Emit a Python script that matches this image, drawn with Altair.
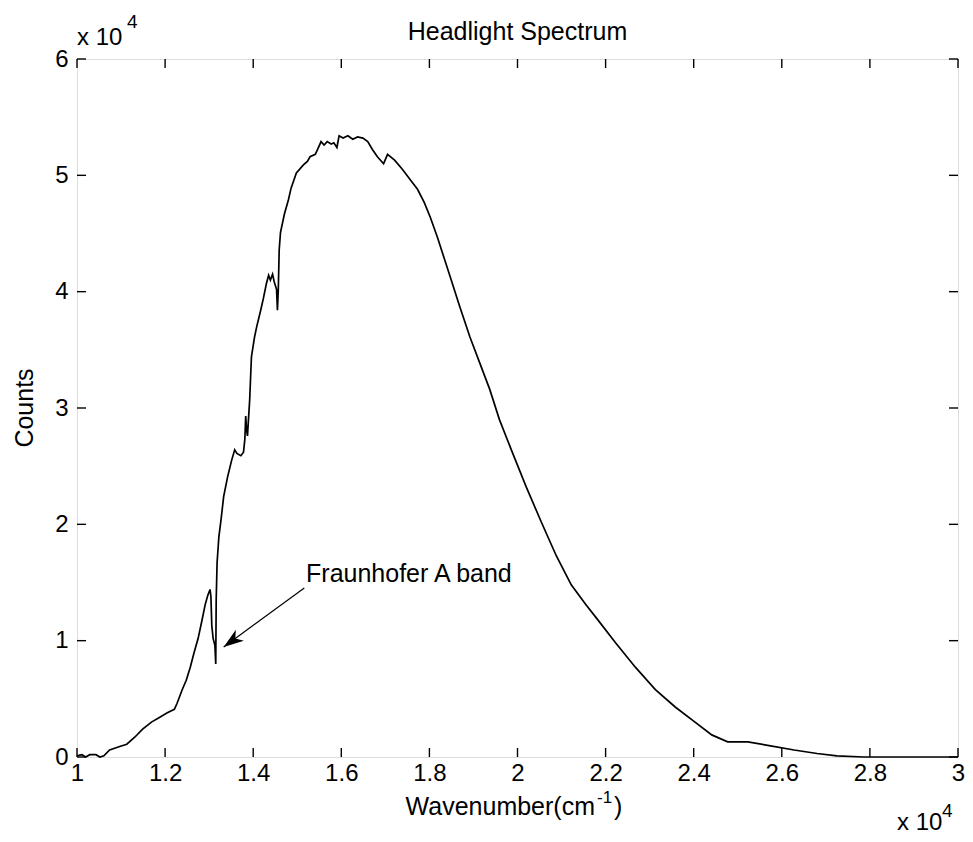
import altair as alt
import pandas as pd

# ---- data (wavenumber in 10^4 cm^-1, counts in 10^4) ----
wavenumber = [1.000, 1.011, 1.020, 1.029, 1.043, 1.052, 1.061, 1.074, 1.097, 1.113,
              1.131, 1.149, 1.169, 1.187, 1.205, 1.221, 1.227, 1.239, 1.248, 1.257,
              1.266, 1.275, 1.284, 1.291, 1.297, 1.302, 1.304, 1.306, 1.309, 1.313,
              1.315, 1.316, 1.318, 1.322, 1.327, 1.333, 1.342, 1.351, 1.358, 1.363,
              1.372, 1.378, 1.381, 1.383, 1.385, 1.387, 1.392, 1.396, 1.403, 1.408,
              1.417, 1.423, 1.430, 1.435, 1.439, 1.444, 1.448, 1.453, 1.455, 1.457,
              1.459, 1.462, 1.471, 1.480, 1.486, 1.498, 1.514, 1.523, 1.529, 1.541,
              1.547, 1.554, 1.561, 1.568, 1.577, 1.583, 1.590, 1.595, 1.604, 1.615,
              1.626, 1.637, 1.649, 1.660, 1.671, 1.682, 1.696, 1.705, 1.721, 1.739,
              1.757, 1.773, 1.788, 1.802, 1.818, 1.847, 1.869, 1.892, 1.914, 1.937,
              1.959, 1.986, 2.020, 2.054, 2.088, 2.122, 2.155, 2.178, 2.223, 2.268,
              2.313, 2.358, 2.403, 2.441, 2.477, 2.523, 2.568, 2.628, 2.680, 2.725,
              2.786, 3.000]
counts = [0.01, 0.02, 0.00, 0.02, 0.02, 0.00, 0.01, 0.06, 0.09, 0.11,
          0.17, 0.24, 0.30, 0.34, 0.38, 0.41, 0.46, 0.58, 0.66, 0.77,
          0.90, 1.02, 1.18, 1.31, 1.39, 1.44, 1.38, 1.13, 1.02, 0.96,
          0.80, 1.35, 1.67, 1.89, 2.04, 2.24, 2.41, 2.55, 2.64, 2.61,
          2.59, 2.62, 2.73, 2.93, 2.81, 2.76, 3.07, 3.44, 3.61, 3.70,
          3.84, 3.94, 4.07, 4.14, 4.10, 4.15, 4.08, 4.02, 3.84, 4.02,
          4.36, 4.51, 4.67, 4.79, 4.89, 5.02, 5.09, 5.12, 5.16, 5.18,
          5.23, 5.29, 5.26, 5.29, 5.27, 5.28, 5.24, 5.34, 5.32, 5.34,
          5.31, 5.33, 5.32, 5.29, 5.22, 5.16, 5.10, 5.18, 5.13, 5.05,
          4.96, 4.88, 4.77, 4.64, 4.47, 4.13, 3.87, 3.61, 3.39, 3.16,
          2.90, 2.64, 2.32, 2.02, 1.73, 1.48, 1.31, 1.20, 0.98, 0.77,
          0.58, 0.43, 0.30, 0.19, 0.13, 0.13, 0.10, 0.06, 0.03, 0.01,
          0.00, 0.00]
x_ticks = [1.0, 1.2, 1.4, 1.6, 1.8, 2.0, 2.2, 2.4, 2.6, 2.8, 3.0]
y_ticks = [0, 1, 2, 3, 4, 5, 6]

annotation_text = ["Fraunhofer A band"]
annotation_xy = [1.520, 1.505]
arrow_start = [1.516, 1.453]
arrow_tip = [1.333, 0.946]

W, H = 881, 698
FONT = "Liberation Sans"
TL = 9  # inner tick length

xs = alt.Scale(domain=[1, 3], nice=False, zero=False)
ys = alt.Scale(domain=[0, 6], nice=False, zero=False)
x_axis = alt.Axis(values=x_ticks, format="~g", title=None, grid=False, domain=False, ticks=False,
                  labelFontSize=24, labelFont=FONT, labelColor="black", labelPadding=4,
                  labelFlush=False, labelOverlap=False)
y_axis = alt.Axis(values=y_ticks, format="d", title=None, grid=False, domain=False, ticks=False,
                  labelFontSize=24, labelFont=FONT, labelColor="black", labelPadding=9,
                  labelFlush=False, labelOverlap=False)


def X(field="x"):
    return alt.X(f"{field}:Q", scale=xs, axis=x_axis, title=None)


def Y(field="y"):
    return alt.Y(f"{field}:Q", scale=ys, axis=y_axis, title=None)


df = pd.DataFrame({"x": wavenumber, "y": counts, "i": list(range(len(counts)))})
line = alt.Chart(df).mark_line(color="black", strokeWidth=1.7).encode(
    x=X(), y=Y(), order="i:Q")

xt = pd.DataFrame({"x": x_ticks})
yt = pd.DataFrame({"y": y_ticks})
tick_x_bottom = alt.Chart(xt).mark_rule(color="black", strokeWidth=1.4).encode(
    x=X(), y=alt.value(H), y2=alt.value(H - TL))
tick_x_top = alt.Chart(xt).mark_rule(color="black", strokeWidth=1.4).encode(
    x=X(), y=alt.value(0), y2=alt.value(TL))
tick_y_left = alt.Chart(yt).mark_rule(color="black", strokeWidth=1.4).encode(
    y=Y(), x=alt.value(0), x2=alt.value(TL))
tick_y_right = alt.Chart(yt).mark_rule(color="black", strokeWidth=1.4).encode(
    y=Y(), x=alt.value(W), x2=alt.value(W - TL))

ann_df = pd.DataFrame({"t": annotation_text, "x": [annotation_xy[0]], "y": [annotation_xy[1]]})
ann = alt.Chart(ann_df).mark_text(align="left", baseline="alphabetic", fontSize=25, font=FONT,
                                   color="black").encode(x=X(), y=Y(), text="t:N")

arr_df = pd.DataFrame({"x": [arrow_start[0]], "y": [arrow_start[1]],
                       "x2": [arrow_tip[0]], "y2": [arrow_tip[1]]})
arrow_line = alt.Chart(arr_df).mark_rule(color="black", strokeWidth=1.2).encode(
    x=X(), y=Y(), x2="x2:Q", y2="y2:Q")

head_df = pd.DataFrame({"x": [arrow_tip[0]], "y": [arrow_tip[1]]})
arrow_head = alt.Chart(head_df).mark_point(
    shape="M0,0L-0.55,1.6L0,1.15L0.55,1.6Z", filled=True, color="black", opacity=1,
    size=625, angle=234).encode(x=X(), y=Y())


def txt(s, x, y, size=25, align="left", angle=0):
    m = alt.Chart().mark_text(text=s, align=align, baseline="alphabetic", fontSize=size,
                              font=FONT, color="black", angle=angle)
    return m.encode(x=alt.value(x), y=alt.value(y))


title = txt("Headlight Spectrum", W / 2, -19, align="center")
ylab = txt("Counts", -44, H / 2, align="center", angle=270)
top_exp1 = txt("x 10", 0, -14, size=24)
top_exp2 = txt("4", 50, -31, size=19)
xlab1 = txt("Wavenumber(cm", 518, 756, align="right")
xlab2 = txt("-1", 520, 744, size=17)
xlab3 = txt(")", 537, 756)
bot_exp1 = txt("x 10", 820, 771, size=24)
bot_exp2 = txt("4", 865, 758, size=19)

chart = alt.layer(
    line, tick_x_bottom, tick_x_top, tick_y_left, tick_y_right,
    arrow_line, arrow_head, ann,
    title, ylab, top_exp1, top_exp2, xlab1, xlab2, xlab3, bot_exp1, bot_exp2,
).properties(
    width=W, height=H,
    autosize=alt.AutoSizeParams(type="none"),
    padding={"left": 69, "top": 51, "right": 7, "bottom": 77},
).configure_view(
    stroke="black", strokeWidth=1.5
).configure(background="white")

chart.save("out.html", embed_options={"renderer": "svg", "actions": False})
